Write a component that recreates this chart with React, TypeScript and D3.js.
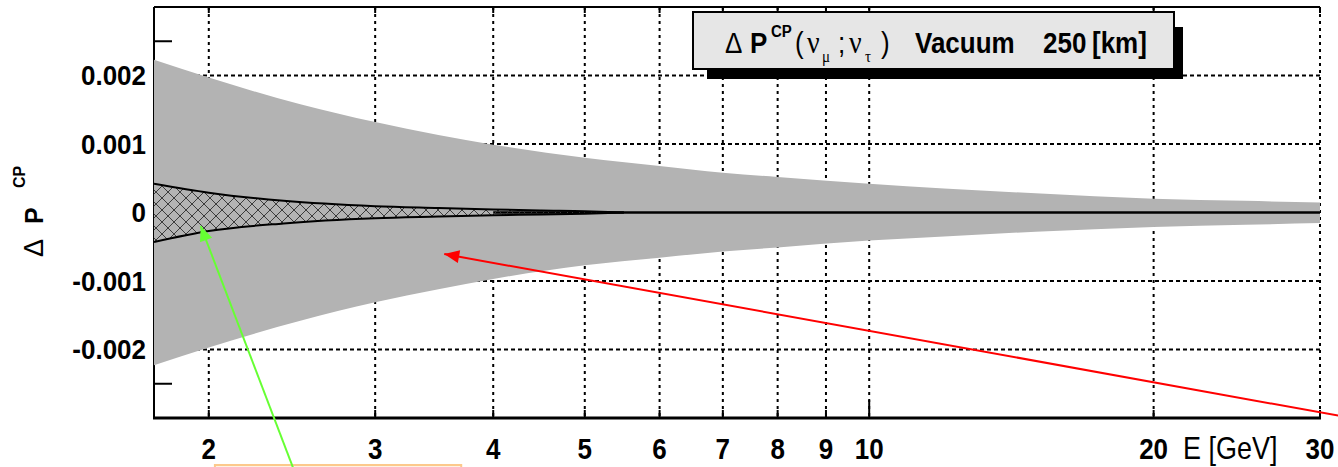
import React from "react";
import * as d3 from "d3";

// ---- data ----
const E_OUTER = [1.75, 2, 2.5, 3, 3.5, 4, 5, 6, 7, 8, 10, 12, 15, 20, 25, 30];
const OUTER_UPPER = [0.00223, 0.00197, 0.00158, 0.00132, 0.00113, 0.00099, 0.0008, 0.00068, 0.00058, 0.00052, 0.00042, 0.00035, 0.00028, 0.0002, 0.00017, 0.000145];
const OUTER_LOWER = [-0.00223, -0.00197, -0.00158, -0.00131, -0.00112, -0.00097, -0.00077, -0.00066, -0.00057, -0.00051, -0.00041, -0.00035, -0.00028, -0.00021, -0.00018, -0.000155];

const E_INNER = [1.75, 2, 2.4, 3, 3.5, 4, 4.5, 5, 5.5];
const INNER_UPPER = [0.00042, 0.00029, 0.00017, 0.000092, 0.000066, 0.000045, 0.00003, 0.00002, 0];
const INNER_LOWER = [-0.00043, -0.00027, -0.00016, -0.000085, -0.00006, -0.00004, -0.000028, -0.000018, 0];

const CENTER_E = [4, 30];
const CENTER_V = [0, 0];

const X_TICKS = [2, 3, 4, 5, 6, 7, 8, 9, 10, 20, 30];
const X_TICK_LABELS = ["2", "3", "4", "5", "6", "7", "8", "9", "10", "20", "30"];
const X_MAJOR = [10];
const Y_TICKS = [0.002, 0.001, 0, -0.001, -0.002];
const Y_TICK_LABELS = ["0.002", "0.001", "0", "-0.001", "-0.002"];
const Y_EXTRA_TICKS = [0.0025, -0.0025];

// annotations in data coordinates [E, value]
const RED_ARROW = { tail: [31.5, -0.00297], tip: [3.55, -0.000606] };
const GREEN_ARROW = { tail: [2.455, -0.00372], tip: [1.961, -0.000197] };
const ORANGE_BOX = { e0: 2.03, e1: 3.7, v: -0.003686 };

const FONT = "'Liberation Sans', Arial, Helvetica, sans-serif";
const SERIF = "'Liberation Serif', 'Times New Roman', serif";

function arrowHead(tail: [number, number], tip: [number, number], len: number, half: number) {
  const dx = tip[0] - tail[0];
  const dy = tip[1] - tail[1];
  const L = Math.hypot(dx, dy);
  const ux = dx / L, uy = dy / L;
  const bx = tip[0] - ux * len, by = tip[1] - uy * len;
  const px = -uy, py = ux;
  return `M${tip[0]},${tip[1]}L${bx + px * half},${by + py * half}L${bx - px * half},${by - py * half}Z`;
}

export default function App() {
  const W = 1338, H = 467;
  const x = d3.scaleLog().domain([1.75, 30]).range([154, 1320]);
  const y = d3.scaleLinear().domain([-0.003, 0.003]).range([418, 7]);
  const [x0, x1] = x.range();
  const [yb, yt] = y.range();

  const outer = E_OUTER.map((e, i) => ({ e, hi: OUTER_UPPER[i], lo: OUTER_LOWER[i] }));
  const inner = E_INNER.map((e, i) => ({ e, hi: INNER_UPPER[i], lo: INNER_LOWER[i] }));

  const area = d3
    .area<{ e: number; hi: number; lo: number }>()
    .x((d) => x(d.e))
    .y0((d) => y(d.lo))
    .y1((d) => y(d.hi))
    .curve(d3.curveMonotoneX);
  const lineHi = d3
    .line<{ e: number; hi: number; lo: number }>()
    .x((d) => x(d.e))
    .y((d) => y(d.hi))
    .curve(d3.curveMonotoneX);
  const lineLo = d3
    .line<{ e: number; hi: number; lo: number }>()
    .x((d) => x(d.e))
    .y((d) => y(d.lo))
    .curve(d3.curveMonotoneX);
  const centerLine = d3.line<number>().x((_, i) => x(CENTER_E[i])).y((v) => y(v))(CENTER_V) || "";

  const redTail: [number, number] = [x(RED_ARROW.tail[0]), y(RED_ARROW.tail[1])];
  const redTip: [number, number] = [x(RED_ARROW.tip[0]), y(RED_ARROW.tip[1])];
  const grTail: [number, number] = [x(GREEN_ARROW.tail[0]), y(GREEN_ARROW.tail[1])];
  const grTip: [number, number] = [x(GREEN_ARROW.tip[0]), y(GREEN_ARROW.tip[1])];

  const tickLabelY = 459;
  const stretch = 1.15;

  return (
    <svg
      width={W}
      height={H}
      style={{ position: "absolute", left: 0, top: 0, background: "#fff" }}
      fontFamily={FONT}
    >
      <defs>
        <pattern id="hatch" width="12" height="12" patternUnits="userSpaceOnUse">
          <path d="M0,0L12,12M12,0L0,12" stroke="#3c3c3c" strokeWidth={1} />
        </pattern>
        <clipPath id="plotClip">
          <rect x={x0} y={yt} width={x1 - x0} height={yb - yt} />
        </clipPath>
      </defs>
      <rect x={0} y={0} width={W} height={H} fill="#fff" />

      {/* grid */}
      {X_TICKS.map((t) => (
        <line key={"gx" + t} x1={x(t)} x2={x(t)} y1={yt} y2={yb} stroke="#000" strokeWidth={2} strokeDasharray="3 4" />
      ))}
      {Y_TICKS.map((t) => (
        <line key={"gy" + t} x1={x0} x2={x1} y1={y(t)} y2={y(t)} stroke="#000" strokeWidth={2} strokeDasharray="4 3" />
      ))}

      {/* frame */}
      <line x1={x0} x2={x1} y1={yt} y2={yt} stroke="#000" strokeWidth={2} />
      <line x1={x0} x2={x0} y1={yt} y2={yb} stroke="#000" strokeWidth={2} />
      <line x1={x0 - 1} x2={x1 + 1} y1={yb} y2={yb} stroke="#000" strokeWidth={3} />
      {X_TICKS.map((t) => (
        <g key={"tx" + t}>
          <line x1={x(t)} x2={x(t)} y1={yb} y2={yb - (X_MAJOR.includes(t) ? 18 : 8)} stroke="#000" strokeWidth={2} />
          <line x1={x(t)} x2={x(t)} y1={yt} y2={yt + (X_MAJOR.includes(t) ? 18 : 6)} stroke="#000" strokeWidth={2} />
        </g>
      ))}
      {Y_TICKS.concat(Y_EXTRA_TICKS).map((t) => (
        <line key={"ty" + t} x1={x0} x2={x0 + 18} y1={y(t)} y2={y(t)} stroke="#000" strokeWidth={2} />
      ))}

      {/* bands */}
      <g clipPath="url(#plotClip)">
        <path d={area(outer) || ""} fill="#b3b3b3" />
        <path d={centerLine} stroke="#000" strokeWidth={2.5} fill="none" />
        <path d={area(inner) || ""} fill="url(#hatch)" />
        <path d={lineHi(inner) || ""} stroke="#000" strokeWidth={2} fill="none" />
        <path d={lineLo(inner) || ""} stroke="#000" strokeWidth={2} fill="none" />
      </g>

      {/* y tick labels */}
      {Y_TICKS.map((t, i) => (
        <text
          key={"ly" + t}
          transform={`translate(146,${y(t) + 9.5}) scale(1,1.04)`}
          textAnchor="end"
          fontSize={26}
          fontWeight="bold"
        >
          {Y_TICK_LABELS[i]}
        </text>
      ))}
      {/* x tick labels */}
      {X_TICKS.map((t, i) => (
        <text
          key={"lx" + t}
          transform={`translate(${x(t)},${tickLabelY}) scale(1,${stretch})`}
          textAnchor="middle"
          fontSize={26}
          fontWeight="bold"
        >
          {X_TICK_LABELS[i]}
        </text>
      ))}
      <text transform={`translate(1183,${tickLabelY}) scale(1,${stretch})`} fontSize={27}>
        E [GeV]
      </text>

      {/* y axis title */}
      <g transform="translate(43,0) rotate(-90)">
        <text x={-257} y={0} fontSize={27}>Δ</text>
        <text x={-224} y={0} fontSize={25} fontWeight="bold">P</text>
        <text x={-188} y={-18} fontSize={16} fontWeight="bold">CP</text>
      </g>

      {/* title box */}
      <rect x={707} y={27} width={476} height={52} fill="#000" />
      <rect x={693} y={12} width={481} height={57} fill="#e6e6e6" stroke="#000" strokeWidth={2} />
      <g fontSize={26} transform={`translate(0,53) scale(1,1.12)`}>
        <text x={725} y={0}>Δ</text>
        <text x={750} y={0} fontWeight="bold">P</text>
        <text x={771} y={-14} fontSize={15} fontWeight="bold">CP</text>
        <text x={795} y={0}>(</text>
        <text x={807} y={0} fontFamily={SERIF} fontSize={28}>ν</text>
        <text x={822} y={8} fontFamily={SERIF} fontSize={15}>μ</text>
        <text x={838} y={0}>;</text>
        <text x={849} y={0} fontFamily={SERIF} fontSize={28}>ν</text>
        <text x={865} y={8} fontFamily={SERIF} fontSize={15}>τ</text>
        <text x={881} y={0}>)</text>
        <text x={915} y={0} fontWeight="bold">Vacuum</text>
        <text x={1043} y={0} fontWeight="bold">250</text>
        <text x={1092} y={0} fontWeight="bold">[km]</text>
      </g>

      {/* annotations */}
      <rect
        x={x(ORANGE_BOX.e0)}
        y={y(ORANGE_BOX.v)}
        width={x(ORANGE_BOX.e1) - x(ORANGE_BOX.e0)}
        height={12}
        fill="#fff3e3"
        stroke="#fcc98c"
        strokeWidth={2}
      />
      <line x1={redTail[0]} y1={redTail[1]} x2={redTip[0]} y2={redTip[1]} stroke="#ff0000" strokeWidth={2} />
      <path d={arrowHead(redTail, redTip, 15, 6.5)} fill="#ff0000" />
      <line x1={grTail[0]} y1={grTail[1]} x2={grTip[0]} y2={grTip[1]} stroke="#66ff33" strokeWidth={2} />
      <path d={arrowHead(grTail, grTip, 15, 6.5)} fill="#66ff33" />
    </svg>
  );
}
